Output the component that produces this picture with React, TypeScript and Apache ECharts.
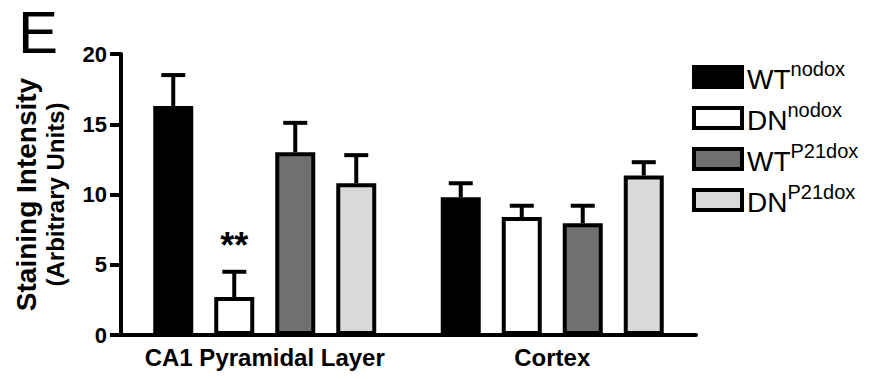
import React, { useEffect, useRef } from "react";
import * as echarts from "echarts";

const CATEGORIES = ["CA1 Pyramidal Layer", "Cortex"];
const SERIES_NAMES = ["WT", "DN", "WT", "DN"];
const SERIES_SUPERS = ["nodox", "nodox", "P21dox", "P21dox"];
const SERIES_COLORS = ["#000000", "#ffffff", "#707070", "#d9d9d9"];
const WT_NODOX = [16.3, 9.8];
const DN_NODOX = [2.7, 8.4];
const WT_P21DOX = [13.0, 7.95];
const DN_P21DOX = [10.8, 11.35];
const WT_NODOX_SEM = [2.2, 1.0];
const DN_NODOX_SEM = [1.8, 0.8];
const WT_P21DOX_SEM = [2.1, 1.25];
const DN_P21DOX_SEM = [2.0, 0.95];
const DN_NODOX_SIGNIF = ["**", ""];
const Y_TICKS = [0, 5, 10, 15, 20];

const VALUES = [WT_NODOX, DN_NODOX, WT_P21DOX, DN_P21DOX];
const SEMS = [WT_NODOX_SEM, DN_NODOX_SEM, WT_P21DOX_SEM, DN_P21DOX_SEM];

const FONT = "'Liberation Sans', Arial, Helvetica, sans-serif";
const BAR_WIDTH = 40;
const BAR_GAP_PX = 21;

export default function App() {
  const ref = useRef<HTMLDivElement>(null);
  useEffect(() => {
    if (!ref.current) return;
    const chart = echarts.init(ref.current, null, { renderer: "svg" });
    const legendKeys = SERIES_NAMES.map((n, i) => n + SERIES_SUPERS[i]);

    const barSeries: any[] = VALUES.map((vals, si) => ({
      type: "bar",
      name: legendKeys[si],
      barWidth: BAR_WIDTH,
      barGap: (BAR_GAP_PX / BAR_WIDTH) * 100 + "%",
      itemStyle: {
        color: SERIES_COLORS[si],
        borderColor: "#000",
        borderWidth: 4,
      },
      data: vals.map((v, ci) => {
        if (si === 1 && DN_NODOX_SIGNIF[ci]) {
          return {
            value: v,
            label: {
              show: true,
              position: "top",
              distance: 34,
              formatter: DN_NODOX_SIGNIF[ci],
              fontSize: 36,
              fontWeight: "bold",
              fontFamily: FONT,
              color: "#000",
            },
          };
        }
        return v;
      }),
      z: 2,
    }));

    const errData: number[][] = [];
    VALUES.forEach((vals, si) =>
      vals.forEach((v, ci) => errData.push([ci, si, v, SEMS[si][ci]]))
    );
    const n = VALUES.length;
    const pitch = BAR_WIDTH + BAR_GAP_PX;

    const errSeries = {
      type: "custom",
      name: "err",
      data: errData,
      encode: { x: 0, y: 2 },
      z: 3,
      renderItem: (params: any, api: any) => {
        const c = api.value(0);
        const s = api.value(1);
        const m = api.value(2);
        const e = api.value(3);
        const base = api.coord([c, m]);
        const top = api.coord([c, m + e]);
        const x = base[0] + (s - (n - 1) / 2) * pitch;
        const st = { stroke: "#000", lineWidth: 4 };
        return {
          type: "group",
          children: [
            { type: "line", shape: { x1: x, y1: base[1], x2: x, y2: top[1] }, style: st },
            { type: "line", shape: { x1: x - 12, y1: top[1], x2: x + 12, y2: top[1] }, style: st },
          ],
        };
      },
    };

    chart.setOption({
      animation: false,
      backgroundColor: "#fff",
      textStyle: { fontFamily: FONT },
      grid: { left: 121, right: 173, top: 54, bottom: 44 },
      graphic: [
        {
          type: "text",
          left: 18,
          top: 2,
          style: { text: "E", fontSize: 60, lineHeight: 34, fontFamily: FONT, fill: "#000" },
        },
      ],
      legend: {
        orient: "vertical",
        left: 687,
        top: 52,
        icon: "rect",
        itemWidth: 48,
        itemHeight: 20,
        itemGap: 5,
        selectedMode: false,
        itemStyle: { borderColor: "#000", borderWidth: 4 },
        data: legendKeys,
        formatter: (name: string) => {
          const i = legendKeys.indexOf(name);
          return "{a|" + SERIES_NAMES[i] + "}{b|" + SERIES_SUPERS[i] + "}";
        },
        textStyle: {
          fontFamily: FONT,
          rich: {
            a: { fontSize: 28, fontFamily: FONT, color: "#000", lineHeight: 32, verticalAlign: "bottom", padding: [8, 0, 0, 0] },
            b: { fontSize: 20, fontFamily: FONT, color: "#000", lineHeight: 22, verticalAlign: "bottom", padding: [0, 0, 14, 0] },
          },
        },
      },
      xAxis: {
        type: "category",
        data: CATEGORIES,
        axisLine: { lineStyle: { color: "#000", width: 4 } },
        axisTick: { alignWithLabel: true, length: 9, lineStyle: { color: "#000", width: 4 } },
        axisLabel: { color: "#000", fontSize: 24, fontWeight: "bold", fontFamily: FONT, margin: 10, interval: 0 },
      },
      yAxis: {
        type: "value",
        min: Y_TICKS[0],
        max: Y_TICKS[Y_TICKS.length - 1],
        interval: Y_TICKS[1] - Y_TICKS[0],
        name: "{a|Staining Intensity}\n{b|(Arbitrary Units)}",
        nameLocation: "middle",
        nameGap: 53,
        nameTextStyle: {
          rich: {
            a: { fontSize: 28, fontWeight: "bold", fontFamily: FONT, color: "#000", lineHeight: 31 },
            b: { fontSize: 24, fontWeight: "bold", fontFamily: FONT, color: "#000", lineHeight: 26 },
          },
        },
        axisLine: { show: true, lineStyle: { color: "#000", width: 4 } },
        axisTick: { show: true, length: 11, lineStyle: { color: "#000", width: 4 } },
        axisLabel: { color: "#000", fontSize: 22, fontWeight: "bold", fontFamily: FONT, margin: 14 },
        splitLine: { show: false },
      },
      series: [...barSeries, errSeries],
    });
    return () => chart.dispose();
  }, []);
  return <div ref={ref} style={{ width: 869, height: 379, position: "absolute", left: 0, top: 0 }} />;
}
